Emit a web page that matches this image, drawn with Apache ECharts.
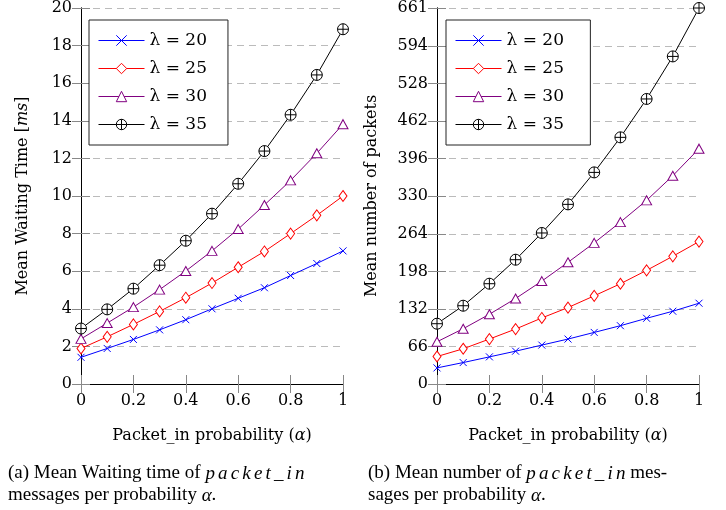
<!DOCTYPE html>
<html>
<head>
<meta charset="utf-8">
<script src="https://cdn.jsdelivr.net/npm/echarts@6/dist/echarts.min.js"></script>
<style>
  html, body { margin: 0; padding: 0; background: #fff; }
  #chart { width: 726px; height: 510px; }
</style>
</head>
<body>
<div id="chart"></div>
<script>
// packet_in probability
const alpha = [0, 0.1, 0.2, 0.3, 0.4, 0.5, 0.6, 0.7, 0.8, 0.9, 1];
const lambdas = ['λ = 20', 'λ = 25', 'λ = 30', 'λ = 35'];

// (a) mean waiting time [ms]
const waitL20 = [1.42, 1.89, 2.37, 2.88, 3.42, 4.0, 4.56, 5.12, 5.77, 6.41, 7.08];
const waitL25 = [1.89, 2.51, 3.17, 3.86, 4.59, 5.37, 6.21, 7.05, 8.0, 8.97, 10.0];
const waitL30 = [2.40, 3.24, 4.09, 5.02, 6.01, 7.08, 8.24, 9.52, 10.83, 12.27, 13.82];
const waitL35 = [2.95, 3.97, 5.07, 6.32, 7.62, 9.06, 10.65, 12.39, 14.32, 16.44, 18.87];

// (b) mean number of packets
const pktL20 = [28.3, 37.7, 47.7, 57.7, 68.4, 79.0, 90.7, 102.5, 115.5, 127.9, 142.0];
const pktL25 = [48.3, 61.9, 79.0, 96.6, 116.1, 134.4, 155.0, 176.2, 199.8, 224.5, 250.4];
const pktL30 = [74.2, 97.2, 122.6, 150.3, 180.9, 213.9, 248.1, 284.6, 322.8, 366.2, 413.7];
const pktL35 = [106.0, 137.6, 176.3, 218.5, 265.5, 315.8, 372.0, 433.6, 501.1, 575.9, 661];

// tick labels of the packets axis
const pktTicks = [0, 66, 132, 198, 264, 330, 396, 462, 528, 594, 661];

const serif = 'DejaVu Serif';
const tnr = 'Liberation Serif';

// marker look per lambda
const marks = [
    { color: '#0000ff', symbol: 'path://M0,0L10,10M10,0L0,10', size: 7, fill: '#0000ff' },
    { color: '#ff0000', symbol: 'diamond', size: [8, 11], fill: '#fff' },
    { color: '#800080', symbol: 'triangle', size: [10, 9], fill: '#fff' },
    { color: '#000000', symbol: 'path://M10,0A10,10,0,1,1,10,20A10,10,0,1,1,10,0ZM10,0L10,20M0,10L20,10', size: 11, fill: '#fff' }
];

// suffix keeps the two legends apart (an invisible trailing space for plot b)
function makeSeries(values, axisIdx, suffix) {
    return values.map((vals, k) => ({
        name: lambdas[k] + suffix,
        type: 'line',
        xAxisIndex: axisIdx,
        yAxisIndex: axisIdx,
        data: alpha.map((a, i) => [a, vals[i]]),
        symbol: marks[k].symbol,
        symbolSize: marks[k].size,
        showAllSymbol: true,
        lineStyle: { color: marks[k].color, width: 1 },
        itemStyle: { color: marks[k].fill, borderColor: marks[k].color, borderWidth: 1 },
        emphasis: { disabled: true },
        animation: false
    }));
}

const axisLabelStyle = { color: '#000', fontFamily: serif, fontSize: 16 };
const nameRich = {
    n: { fontFamily: serif, fontSize: 16, color: '#000' },
    i: { fontFamily: serif, fontSize: 16, fontStyle: 'italic', color: '#000' }
};

function xAxes(idx) {
    return [{
        type: 'value', gridIndex: idx, min: 0, max: 1, interval: 0.2,
        position: 'bottom',
        name: '{n|Packet_in probability (}{i|α}{n|)}',
        nameLocation: 'middle', nameGap: 44,
        nameTextStyle: { rich: nameRich },
        axisLine: { lineStyle: { color: '#000', width: 1 } },
        axisTick: { inside: true, length: 9, lineStyle: { color: '#888' } },
        axisLabel: Object.assign({ margin: 9 }, axisLabelStyle),
        splitLine: { show: false }
    }, {
        type: 'value', gridIndex: idx, min: 0, max: 1, interval: 0.2,
        position: 'top',
        axisLine: { lineStyle: { color: '#000', width: 1 } },
        axisTick: { inside: true, length: 9, lineStyle: { color: '#888' } },
        axisLabel: { show: false },
        splitLine: { show: false }
    }];
}

function yAxes(idx, max, interval, name, gap, ticks) {
    let label = Object.assign({ margin: 9 }, axisLabelStyle);
    if (ticks) label.customValues = ticks;
    return [{
        type: 'value', gridIndex: idx, min: 0, max: max, interval: interval,
        position: 'left',
        name: name,
        nameLocation: 'middle', nameGap: gap,
        nameTextStyle: { rich: nameRich },
        axisLine: { show: true, lineStyle: { color: '#000', width: 1 } },
        axisTick: { show: true, inside: true, length: 9, lineStyle: { color: '#888' } },
        axisLabel: label,
        splitLine: { show: true, lineStyle: { color: '#bbb', type: [7, 5], width: 1 } }
    }, {
        type: 'value', gridIndex: idx, min: 0, max: max, interval: interval,
        position: 'right',
        axisLine: { show: true, lineStyle: { color: '#000', width: 1 } },
        axisTick: { show: true, inside: true, length: 9, lineStyle: { color: '#888' } },
        axisLabel: { show: false },
        splitLine: { show: false }
    }];
}

function legendAt(left, suffix) {
    return {
        orient: 'vertical',
        left: left, top: 20,
        data: lambdas.map(l => l + suffix),
        itemWidth: 46, itemHeight: 13, itemGap: 11,
        padding: [12, 21, 12, 9],
        backgroundColor: '#fff',
        borderColor: '#222', borderWidth: 1, borderRadius: 0,
        lineStyle: { width: 1 },
        itemStyle: { borderWidth: 1 },
        textStyle: { fontFamily: serif, fontSize: 17, color: '#000' },
        selectedMode: false
    };
}

const xa = xAxes(0).concat(xAxes(1));
const ya = yAxes(0, 20, 2, '{n|Mean Waiting Time [}{i|ms}{n|]}', 50)
    .concat(yAxes(1, 661, 66, '{n|Mean number of packets}', 57, pktTicks));
// series sit on the bottom / left axes: index 0 (a) and 2 (b)
let s = makeSeries([waitL20, waitL25, waitL30, waitL35], 0, '')
    .concat(makeSeries([pktL20, pktL25, pktL30, pktL35], 2, ' '));

// math italic is loosely spaced
const pin = 'packet_in'.split('').join('\u2006');
const capRich = {
    n: { fontFamily: tnr, fontSize: 19, lineHeight: 22, fill: '#000' },
    i: { fontFamily: tnr, fontSize: 19, lineHeight: 22, fontStyle: 'italic', fill: '#000' }
};

let option = {
    backgroundColor: '#fff',
    animation: false,
    grid: [
        { left: 81, right: 383, top: 8, bottom: 126 },
        { left: 437, right: 27, top: 8, bottom: 126 }
    ],
    xAxis: xa,
    yAxis: ya,
    legend: [legendAt(89, ''), legendAt(446, ' ')],
    series: s,
    graphic: [
        {
            type: 'text', left: 8, top: 464,
            style: {
                text: '{n|(a) Mean Waiting time of }{i|' + pin + '}\n{n|messages per probability }{i|α}{n|.}',
                rich: capRich
            }
        },
        {
            type: 'text', left: 368, top: 464,
            style: {
                text: '{n|(b) Mean number of }{i|' + pin + '}{n| mes-}\n{n|sages per probability }{i|α}{n|.}',
                rich: capRich
            }
        }
    ]
};

let myChart = echarts.init(document.getElementById('chart'), null, { renderer: 'canvas' });
option && myChart.setOption(option);
</script>
</body>
</html>
